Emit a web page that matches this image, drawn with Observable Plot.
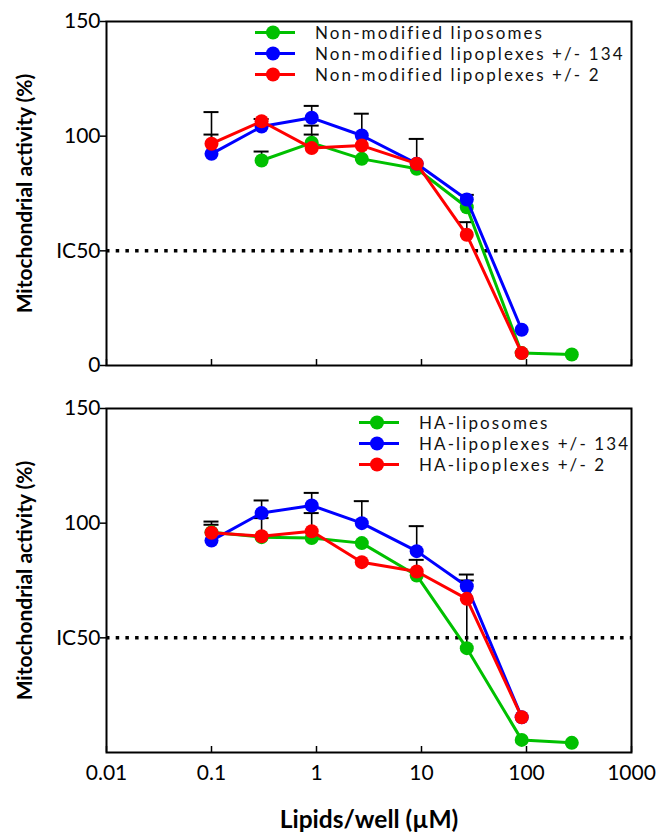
<!DOCTYPE html>
<html><head><meta charset="utf-8">
<script src="https://cdn.jsdelivr.net/npm/d3@7"></script>
<script src="https://cdn.jsdelivr.net/npm/@observablehq/plot@0.6"></script>
<style>
body{margin:0;background:#fff;}
#wrap{position:relative;width:658px;height:835px;font-family:Lato,sans-serif;}
#wrap svg{display:block;}
.leg{position:absolute;font-family:Lato,sans-serif;font-size:17px;letter-spacing:2.1px;color:#111;}
.leg .row{display:flex;align-items:center;height:21px;white-space:nowrap;}
.leg .row span{margin-left:20px;}
</style></head><body><div id="wrap"></div>
<script>
// Shared x values (lipids/well, µM)
const doses = [0.1, 0.3, 0.9, 2.7, 9, 27, 90, 270];
const xTicks = [0.01, 0.1, 1, 10, 100, 1000];
const xTickLabels = ["0.01", "0.1", "1", "10", "100", "1000"];
const yTicksTop = [0, 50, 100, 150];
const yTickLabelsTop = ["0", "IC50", "100", "150"];
const yTicksBottom = [50, 100, 150];
const yTickLabelsBottom = ["IC50", "100", "150"];
const icLevel = 50;
const yTitle = "Mitochondrial activity (%)";
const xTitle = "Lipids/well (µM)";
const colors = ["#00c000", "#0000ff", "#ff0000"];

// Top panel: non-modified
const topNames = ["Non-modified liposomes", "Non-modified lipoplexes +/- 134", "Non-modified lipoplexes +/- 2"];
const topLiposomes     = [null, 89.4, 97.1, 90.1, 85.8, 69.0, 5.4, 4.8];
const topLiposomesErr  = [null, 93.3, 100.7, null, null, null, null, null];
const topLipo134       = [92.3, 104.2, 108.0, 100.3, 88.0, 72.4, 15.6, null];
const topLipo134Err    = [100.7, 107.5, 113.2, 109.8, 98.8, 74.4, null, null];
const topLipo2         = [96.7, 106.5, 94.8, 95.9, 88.0, 57.0, 5.4, null];
const topLipo2Err      = [110.5, null, 104.6, null, null, 62.5, null, null];

// Bottom panel: HA-modified
const botNames = ["HA-liposomes", "HA-lipoplexes +/- 134", "HA-lipoplexes +/- 2"];
const botLiposomes     = [96.0, 93.9, 93.5, 91.3, 77.2, 45.5, 5.5, 4.2];
const botLiposomesErr  = [99.3, null, null, null, 84.0, 77.6, null, null];
const botLipo134       = [92.4, 104.4, 107.7, 100.0, 87.8, 72.5, 15.4, null];
const botLipo134Err    = [100.7, 109.9, 113.2, 109.6, 98.7, 75.0, null, null];
const botLipo2         = [95.8, 94.3, 96.5, 83.0, 78.9, 67.0, 15.4, null];
const botLipo2Err      = [null, 102.2, 104.4, null, null, null, null, null];

function makeSeries(names, vals, errs) {
  return names.map((name, i) => ({name, color: colors[i], values: vals[i], errors: errs[i]}));
}

function panel({series, yTicks, yLabels, showX, height, marginTop, marginBottom}) {
  const rows = series.flatMap((s) => doses.map((d, i) => ({dose: d, value: s.values[i], err: s.errors[i], name: s.name, color: s.color}))
    .filter(r => r.value != null));
  const errRows = rows.filter(r => r.err != null);
  const capK = Math.pow(10, 7.5 / 105);
  const plotH = height - marginTop - marginBottom;
  const marks = [
    Plot.ruleY([icLevel], {stroke: "black", strokeWidth: 3.5, strokeDasharray: "3.5,6.2"}),
    Plot.ruleX(errRows, {x: "dose", y1: "value", y2: "err", stroke: "black", strokeWidth: 1.6}),
    Plot.ruleY(errRows, {y: "err", x1: r => r.dose / capK, x2: r => r.dose * capK, stroke: "black", strokeWidth: 2})
  ];
  for (const s of series) {
    const d = rows.filter(r => r.name === s.name);
    marks.push(Plot.line(d, {x: "dose", y: "value", stroke: s.color, strokeWidth: 3}));
    marks.push(Plot.dot(d, {x: "dose", y: "value", fill: s.color, r: 7}));
  }
  marks.push(
    Plot.ruleX(xTicks, {insetTop: plotH - 6, stroke: "black", strokeWidth: 1.5}),
    Plot.axisY(yTicks, {tickFormat: d => yLabels[yTicks.indexOf(d)], tickSize: 6, tickPadding: 0, fontSize: 21, strokeWidth: 1.5, label: null}),
    Plot.frame({stroke: "black", strokeWidth: 2}),
    Plot.text([yTitle], {frameAnchor: "left", rotate: -90, dx: -81, textAnchor: "middle", lineAnchor: "middle", fontWeight: "bold", fontSize: 21, fill: "black"})
  );
  if (showX) {
    marks.push(
      Plot.axisX(xTicks, {tickFormat: d => xTickLabels[xTicks.indexOf(d)], tickSize: 0, tickPadding: 13, fontSize: 21, label: null}),
      Plot.text([xTitle], {frameAnchor: "bottom", dy: 68, textAnchor: "middle", lineAnchor: "middle", fontWeight: "bold", fontSize: 24.5, fill: "black"})
    );
  }
  return Plot.plot({
    width: 658, height, marginLeft: 106, marginRight: 27, marginTop, marginBottom,
    style: {fontFamily: "Lato, sans-serif", fontSize: "21px", color: "black", background: "white", overflow: "visible"},
    x: {type: "log", domain: [0.01, 1000], axis: showX ? undefined : null},
    y: {domain: [0, 150]},
    marks
  });
}

function legend(series, left, top) {
  const div = document.createElement("div");
  div.className = "leg";
  div.style.left = left + "px";
  div.style.top = top + "px";
  for (const s of series) {
    const row = document.createElement("div");
    row.className = "row";
    row.innerHTML = `<svg width="40" height="21" style="overflow:visible"><line x1="0" x2="40" y1="10.5" y2="10.5" stroke="${s.color}" stroke-width="3"/><circle cx="18" cy="10.5" r="7" fill="${s.color}"/></svg><span>${s.name}</span>`;
    div.appendChild(row);
  }
  return div;
}

const wrap = document.getElementById("wrap");
const topSeries = makeSeries(topNames, [topLiposomes, topLipo134, topLipo2], [topLiposomesErr, topLipo134Err, topLipo2Err]);
const botSeries = makeSeries(botNames, [botLiposomes, botLipo134, botLipo2], [botLiposomesErr, botLipo134Err, botLipo2Err]);
wrap.appendChild(panel({series: topSeries, yTicks: yTicksTop, yLabels: yTickLabelsTop, showX: false, height: 390, marginTop: 21, marginBottom: 25}));
wrap.appendChild(panel({series: botSeries, yTicks: yTicksBottom, yLabels: yTickLabelsBottom, showX: true, height: 445, marginTop: 18, marginBottom: 83}));
wrap.appendChild(legend(topSeries, 255, 21.5));
wrap.appendChild(legend(botSeries, 359, 411.5));
</script></body></html>
